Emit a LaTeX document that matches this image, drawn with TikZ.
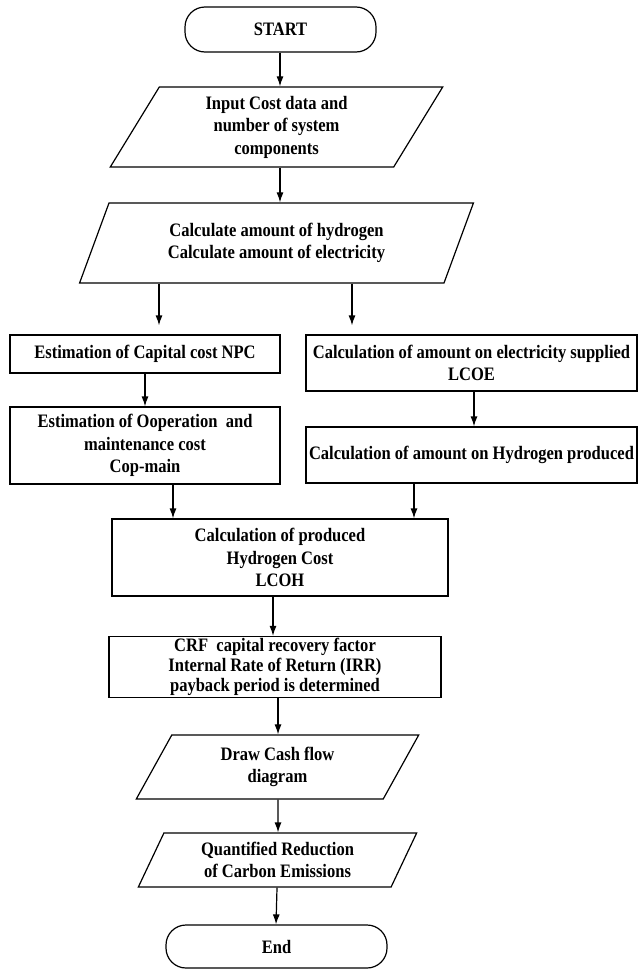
\documentclass[tikz,border=0pt]{standalone}
\usepackage{fontspec}
\setmainfont{Liberation Serif}[FakeStretch=0.87]
\usetikzlibrary{shapes.geometric,arrows.meta}

\begin{document}
\begin{tikzpicture}[
    x=1pt, y=-1pt,
    txt/.style={font=\fontsize{19pt}{22.5pt}\selectfont\bfseries, align=center, text=black},
    term/.style={txt, draw, line width=1.2pt, rounded corners=20pt, inner sep=0pt},
    procbox/.style={txt, draw, line width=1.2pt, rectangle, inner sep=0pt},
    iobox/.style={txt, draw, line width=1.2pt, trapezium, trapezium stretches=true,
      trapezium left angle=64.5, trapezium right angle=115.5, inner sep=0pt},
    arr/.style={draw, line width=1.2pt, -{Latex[length=10pt,width=7pt]}},
  ]
  \useasboundingbox (0,0) rectangle (638,969);

  % main column
  \node[term, minimum width=191pt, minimum height=45pt] (start) at (280.5,29.5) {START};
  \node[iobox, minimum width=333pt, minimum height=80pt] (input) at (276.5,127)
    {Input Cost data and\\number of system\\components};
  \node[iobox, minimum width=395pt, minimum height=80pt] (calc) at (276.5,243)
    {Calculate amount of hydrogen\\Calculate amount of electricity};

  % left branch: costs
  \node[procbox, minimum width=270pt, minimum height=38pt] (npc) at (145,354)
    {Estimation of Capital cost NPC};
  \node[procbox, minimum width=270pt, minimum height=77pt] (om) at (145,445.5)
    {Estimation of Ooperation~ and\\maintenance cost\\Cop-main};

  % right branch: amounts
  \node[procbox, minimum width=331pt, minimum height=56pt] (lcoe) at (471.5,363)
    {Calculation of amount on electricity supplied\\LCOE};
  \node[procbox, minimum width=331pt, minimum height=56pt] (hyd) at (471.5,455)
    {Calculation of amount on Hydrogen produced};

  % merge and evaluation
  \node[procbox, minimum width=336pt, minimum height=77pt] (lcoh) at (280,557.5)
    {Calculation of produced\\Hydrogen Cost\\LCOH};
  \node[procbox, minimum width=332pt, minimum height=61pt, font=\fontsize{19pt}{20pt}\selectfont\bfseries] (crf) at (275,667)
    {CRF~ capital recovery factor\\Internal Rate of Return (IRR)\\payback period is determined};
  \node[iobox, minimum width=283pt, minimum height=64pt] (cash) at (277.5,767)
    {Draw Cash flow\\diagram};
  \node[iobox, minimum width=279pt, minimum height=54pt] (quant) at (277.5,860)
    {Quantified Reduction\\of Carbon Emissions};
  \node[term, minimum width=221pt, minimum height=43pt] (end) at (276.5,946.5) {End};

  % connectors
  \draw[arr] ([xshift=-0.5pt]start.south) -- ([xshift=-0.5pt]start.south |- input.north);
  \draw[arr] ([xshift=-0.5pt]start.south |- input.south) -- ([xshift=-0.5pt]start.south |- calc.north);
  \draw[arr, shorten >=9pt] ([xshift=14pt]npc.north |- calc.south) -- ([xshift=14pt]npc.north);
  \draw[arr, shorten >=9pt] ([xshift=-119.5pt]lcoe.north |- calc.south) -- ([xshift=-119.5pt]lcoe.north);
  \draw[arr] (npc.south) -- (om.north);
  \draw[arr] ([xshift=2.5pt]lcoe.south) -- ([xshift=2.5pt]hyd.north);
  \draw[arr] ([xshift=28pt]om.south) -- ([xshift=28pt]om.south |- lcoh.north);
  \draw[arr] ([xshift=-57.5pt]hyd.south) -- ([xshift=-57.5pt]hyd.south |- lcoh.north);
  \draw[arr] ([xshift=-2pt]crf.north |- lcoh.south) -- ([xshift=-2pt]crf.north);
  \draw[arr] ([xshift=0.5pt]crf.south -| cash.north) -- ([xshift=0.5pt]cash.north);
  \draw[arr] ([xshift=0.5pt]cash.south) -- ([xshift=0.5pt]quant.north);
  \draw[arr] ([xshift=-0.5pt]quant.south) -- ([xshift=-0.5pt]end.north);
\end{tikzpicture}
\end{document}
